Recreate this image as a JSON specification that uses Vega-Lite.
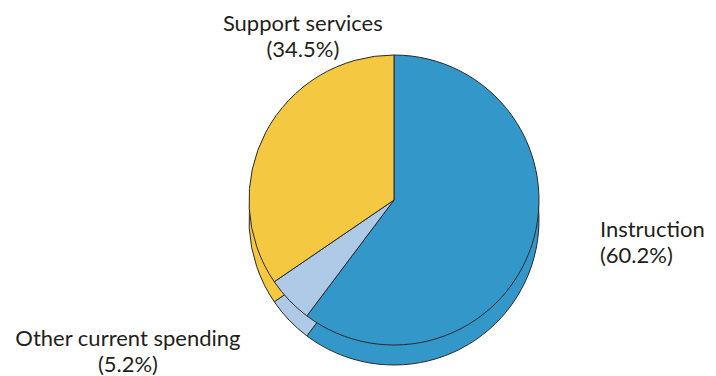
{
  "$schema": "https://vega.github.io/schema/vega-lite/v6.json",
  "width": 644,
  "height": 352,
  "autosize": {"type": "none"},
  "padding": {"left": 72, "top": 24, "right": 0, "bottom": 0},
  "background": "white",
  "config": {"view": {"stroke": null}},
  "data": {
    "values": [
      {"category": "Instruction", "share": 60.2, "rank": 1, "label": "Instruction\n(60.2%)"},
      {"category": "Other current spending", "share": 5.2, "rank": 2, "label": "Other current spending\n(5.2%)"},
      {"category": "Support services", "share": 34.5, "rank": 3, "label": "Support services\n(34.5%)"}
    ]
  },
  "encoding": {
    "theta": {"field": "share", "type": "quantitative", "stack": true},
    "order": {"field": "rank", "type": "quantitative", "sort": "ascending"}
  },
  "layer": [
    {
      "mark": {"type": "arc", "outerRadius": 145, "yOffset": 20, "stroke": "#2a2a2a", "strokeWidth": 1},
      "encoding": {
        "color": {"field": "category", "type": "nominal", "legend": null,
          "scale": {"domain": ["Instruction", "Other current spending", "Support services"], "range": ["#3398c9", "#aecae6", "#f4c840"]}}
      }
    },
    {
      "mark": {"type": "arc", "outerRadius": 145, "stroke": "#2a2a2a", "strokeWidth": 1},
      "encoding": {
        "color": {"field": "category", "type": "nominal", "legend": null,
          "scale": {"domain": ["Instruction", "Other current spending", "Support services"], "range": ["#3398c9", "#aecae6", "#f4c840"]}}
      }
    },
    {
      "mark": {"type": "text", "radius": 215, "align": "left", "baseline": "middle", "dx": 2, "dy": -38, "font": "Lato", "fontSize": 22, "lineHeight": 26, "lineBreak": "\n", "fill": "#231f20"},
      "encoding": {
        "detail": {"field": "category", "type": "nominal"},
        "text": {"condition": {"test": "datum.category === 'Instruction'", "field": "label"}, "value": ""}
      }
    },
    {
      "mark": {"type": "text", "radius": 220, "align": "center", "baseline": "middle", "dx": -107, "dy": -13, "font": "Lato", "fontSize": 22, "lineHeight": 26, "lineBreak": "\n", "fill": "#231f20"},
      "encoding": {
        "detail": {"field": "category", "type": "nominal"},
        "text": {"condition": {"test": "datum.category === 'Other current spending'", "field": "label"}, "value": ""}
      }
    },
    {
      "mark": {"type": "text", "radius": 180, "align": "center", "baseline": "middle", "dx": 68, "dy": -92, "font": "Lato", "fontSize": 22, "lineHeight": 26, "lineBreak": "\n", "fill": "#231f20"},
      "encoding": {
        "detail": {"field": "category", "type": "nominal"},
        "text": {"condition": {"test": "datum.category === 'Support services'", "field": "label"}, "value": ""}
      }
    }
  ]
}
